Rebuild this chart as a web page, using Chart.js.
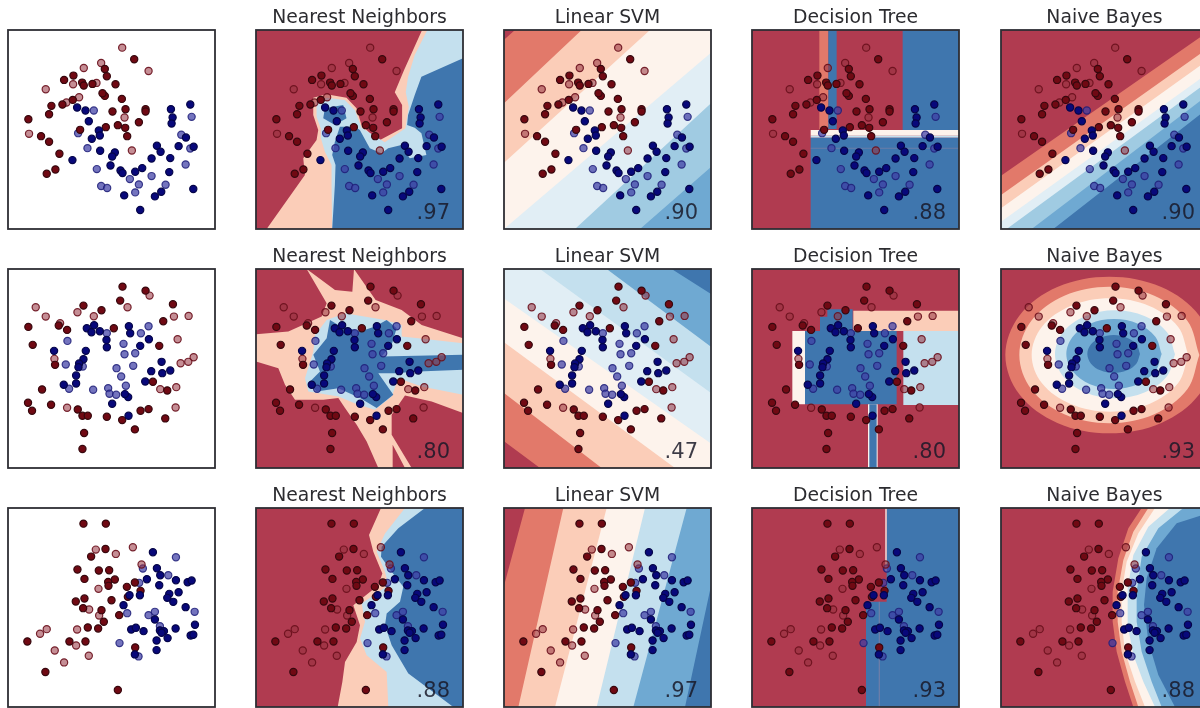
<!DOCTYPE html>
<html>
<head>
<meta charset="utf-8">
<script src="https://cdn.jsdelivr.net/npm/chart.js@4"></script>
<style>
html, body { margin: 0; padding: 0; background: #fff; overflow: hidden; width: 1200px; height: 708px; }
canvas { position: absolute; filter: blur(0.7px); }
</style>
</head>
<body>
<script>
// ---------------- LABELS -------------------
const Titles = ['Nearest Neighbors', 'Linear SVM', 'Decision Tree', 'Naive Bayes']
const Scores = [
    ['.97', '.90', '.88', '.90'],
    ['.80', '.47', '.80', '.93'],
    ['.88', '.97', '.93', '.88']
]

// ---------------- POINTS -----------------------------------------------
const Row1RedTrain = [[403,118],[315,147],[321,169],[221,167],[193,180],[247,188],[252,197],[278,192],[347,193],[315,228],[308,220],[366,237],[219,240],[155,258],[188,254],[148,283],[86,298],[338,275],[377,268],[437,268],[437,275],[417,307],[318,322],[241,330],[354,316],[376,324],[382,349],[148,366],[124,349],[179,402],[167,449],[141,462]]
const Row1RedTest = [[367,83],[446,153],[252,144],[304,129],[138,208],[220,193],[290,189],[238,232],[200,248],[374,293],[88,342],[396,392]]
const Row1BlueTrain = [[232,263],[257,272],[267,304],[297,332],[300,347],[276,357],[301,393],[345,398],[337,410],[332,437],[218,421],[362,452],[368,460],[406,456],[427,445],[455,416],[471,378],[482,396],[511,415],[536,379],[508,457],[513,268],[571,254],[518,293],[515,311],[558,353],[581,381],[580,508],[373,527],[421,571],[465,530],[484,516]]
const Row1BlueTest = [[282,272],[235,340],[263,385],[291,448],[304,499],[322,505],[390,478],[417,494],[406,518],[455,469],[497,495],[557,434],[544,345],[575,291],[571,386]]

const Row2RedTrain = [[368,80],[437,92],[361,122],[519,133],[251,137],[305,151],[490,184],[86,201],[177,197],[202,210],[342,205],[99,255],[478,258],[166,315],[127,389],[459,366],[502,392],[85,429],[97,453],[154,435],[234,449],[248,468],[264,468],[321,471],[367,481],[422,453],[446,448],[496,476],[405,509],[253,520],[248,568]]
const Row2RedTest = [[449,107],[383,142],[108,142],[138,170],[233,157],[282,169],[181,190],[522,170],[566,168],[533,238],[164,297],[542,310],[565,306],[581,292],[529,382],[481,388],[202,444],[527,443]]
const Row2BlueTrain = [[261,205],[283,196],[275,217],[300,214],[387,199],[391,220],[447,238],[421,258],[320,240],[321,262],[163,273],[258,273],[251,298],[238,311],[236,322],[229,347],[229,371],[192,375],[485,306],[454,334],[487,340],[511,332],[436,365],[337,432],[385,412],[375,403],[386,468]]
const Row2BlueTest = [[203,243],[321,220],[446,199],[423,220],[371,252],[374,283],[406,280],[198,314],[249,320],[350,325],[400,318],[364,350],[378,378],[208,387],[280,390],[325,385],[329,402],[349,405]]

const Row3RedTrain = [[251,77],[318,77],[317,153],[274,176],[233,215],[297,218],[328,217],[254,243],[345,245],[325,252],[326,264],[381,267],[405,254],[422,279],[384,297],[228,311],[254,302],[250,331],[335,307],[305,337],[358,352],[312,372],[264,389],[295,392],[83,431],[209,431],[257,431],[406,449],[137,523],[354,577]]
const Row3RedTest = [[288,155],[348,168],[399,148],[425,200],[296,273],[268,335],[298,353],[232,395],[141,394],[121,408],[229,443],[165,458],[267,474],[193,494]]
const Row3BlueTrain = [[459,163],[471,211],[481,232],[441,244],[478,262],[528,247],[563,253],[575,248],[420,292],[389,292],[536,283],[508,288],[502,300],[520,312],[371,322],[557,328],[465,365],[585,381],[527,392],[394,395],[408,390],[431,400],[480,398],[492,400],[485,405],[470,428],[503,421],[572,413],[580,411],[470,457],[405,470]]
const Row3BlueTest = [[528,178],[429,212],[505,232],[418,255],[382,346],[446,352],[465,342],[584,342],[480,385],[359,436],[416,476]]

// ---------------- DECISION REGIONS -------------------
// Nearest Neighbors
const Nn1Peach = [[65,672],[180,510],[175,460],[215,405],[220,375],[205,330],[205,278],[245,268],[305,278],[335,310],[350,360],[400,408],[472,370],[472,300],[450,262],[478,195],[532,75],[655,75],[655,672]]
const Nn1Light = [[548,75],[510,150],[490,215],[483,262],[492,305],[482,370],[420,412],[350,368],[330,315],[300,285],[245,278],[215,292],[215,335],[228,372],[228,400],[240,440],[260,480],[260,540],[262,672],[655,672],[655,75]]
const Nn1Dark = [[655,160],[530,215],[510,270],[490,330],[487,360],[510,368],[530,385],[545,450],[495,460],[470,420],[430,430],[410,445],[375,430],[345,375],[330,365],[285,365],[270,410],[262,450],[272,480],[270,540],[262,672],[655,672]]
const Nn1Blob = [[240,310],[295,300],[305,340],[270,360],[235,340]]

const Nn2Peach = [[185,72],[270,135],[322,140],[327,72],[392,165],[470,195],[530,240],[654,280],[654,505],[560,470],[480,452],[440,510],[440,570],[500,670],[480,670],[443,600],[443,670],[400,670],[365,590],[335,540],[300,490],[280,460],[235,465],[150,465],[120,420],[100,370],[33,350],[33,268],[130,260],[230,215],[245,175]]
const Nn2Light = [[210,270],[245,225],[300,205],[420,225],[470,240],[470,275],[520,280],[654,295],[654,450],[530,425],[460,400],[440,455],[390,495],[340,480],[280,455],[190,440],[180,400],[205,320]]
const Nn2Dark = [[255,225],[280,240],[345,260],[390,245],[425,225],[455,250],[440,300],[410,335],[654,330],[654,375],[520,380],[450,385],[400,385],[445,450],[395,490],[345,460],[280,430],[215,440],[190,415],[225,380],[205,330],[245,280]]

const Nn3Peach = [[408,69],[654,69],[654,665],[278,665],[292,590],[300,530],[335,470],[345,420],[325,360],[400,300],[412,265],[385,200],[372,150]]
const Nn3Light = [[480,69],[420,145],[395,200],[420,260],[430,300],[350,355],[360,410],[345,460],[365,510],[425,560],[430,665],[654,665],[654,69]]
const Nn3Dark = [[540,69],[460,130],[410,185],[408,215],[440,260],[475,305],[465,350],[425,385],[420,420],[440,480],[490,565],[625,665],[654,665],[654,69]]

// Linear SVM
const Svm1Bands = [
    [[60,23],[648,23],[648,476],[27,476],[27,45]],
    [[260,23],[648,23],[648,476],[27,476],[27,190]],
    [[465,23],[648,23],[648,476],[27,476],[27,325]],
    [[648,75],[648,476],[27,476]],
    [[648,190],[648,476],[240,476]],
    [[648,335],[648,476],[435,476]]
]
const Svm2Bands = [
    [[27,568],[648,568],[648,1021],[135,1021],[27,960]],
    [[27,568],[648,568],[648,1021],[320,1021],[27,850]],
    [[27,568],[648,568],[648,1021],[540,1021],[27,735]],
    [[27,568],[648,568],[648,965],[27,635]],
    [[135,568],[648,568],[648,850]],
    [[335,568],[648,568],[648,745]],
    [[530,568],[648,568],[648,625]]
]
const Svm3Bands = [
    [[90,1113],[648,1113],[648,1566],[27,1566],[27,1290]],
    [[205,1113],[648,1113],[648,1566],[70,1566]],
    [[335,1113],[648,1113],[648,1566],[180,1566]],
    [[450,1113],[648,1113],[648,1566],[305,1566]],
    [[575,1113],[648,1113],[648,1566],[415,1566]],
    [[648,1290],[648,1566],[570,1566]]
]

// Decision Tree
const Dt1Salmon = [[238,75],[265,75],[265,372],[238,372]]
const Dt1Strip = [[265,75],[290,75],[290,372],[265,372]]
const Dt1Right = [[488,75],[657,75],[657,375],[488,375]]
const Dt1White = [[212,375],[657,375],[657,392],[212,392]]
const Dt1Light = [[212,392],[657,392],[657,398],[212,398]]
const Dt1Lower = [[212,398],[657,398],[657,672],[212,672]]
const Dt1Seam = [[212,428],[657,428],[657,431],[212,431]]

const Dt2White = [[157,258],[195,258],[195,478],[157,478]]
const Dt2Block = [[195,258],[240,258],[240,215],[262,215],[262,193],[338,193],[338,258],[470,258],[470,478],[195,478]]
const Dt2Peach = [[340,197],[657,197],[657,258],[340,258]]
const Dt2Light = [[490,258],[657,258],[657,480],[490,480]]
const Dt2StemEdge = [[384,478],[413,478],[413,669],[384,669]]
const Dt2Stem = [[388,478],[410,478],[410,669],[388,669]]

const Dt3Blue = [[440,69],[657,69],[657,666],[378,666],[378,350],[440,350]]
const Dt3Line = [[436,69],[440,69],[440,260],[436,260]]
const Dt3Seam = [[416,350],[420,350],[420,666],[416,666]]

// Naive Bayes
const Nb1Bands = [
    [[33,512],[654,80],[654,672],[33,672]],
    [[33,570],[654,130],[654,672],[33,672]],
    [[33,610],[654,165],[654,672],[33,672]],
    [[33,650],[654,205],[654,672],[33,672]],
    [[50,672],[654,230],[654,672]],
    [[125,672],[654,270],[654,672]],
    [[190,672],[654,310],[654,672]]
]
const Nb2Rings = [
    [[670,330],[628,448],[514,534],[358,565],[202,534],[88,448],[46,330],[88,212],[202,126],[358,95],[514,126],[628,212],[670,330]],
    [[628,330],[592,433],[493,508],[358,535],[223,508],[124,433],[88,330],[124,227],[223,152],[358,125],[493,152],[592,227],[628,330]],
    [[595,330],[564,415],[478,477],[360,500],[242,477],[156,415],[125,330],[156,245],[242,183],[360,160],[478,183],[564,245],[595,330]],
    [[555,328],[531,394],[465,442],[375,460],[285,442],[219,394],[195,328],[219,262],[285,214],[375,196],[465,214],[531,262],[555,328]],
    [[515,327],[496,379],[444,418],[372,432],[300,418],[248,379],[229,327],[248,275],[300,236],[372,222],[444,236],[496,275],[515,327]],
    [[450,327],[439,356],[411,376],[371,384],[331,376],[303,356],[292,327],[303,298],[331,278],[371,270],[411,278],[439,298],[450,327]]
]
const Nb3Bands = [
    [[1205,69],[1165,130],[1135,220],[1118,320],[1118,410],[1130,500],[1155,590],[1180,666],[1404,666],[1404,69]],
    [[1225,69],[1180,140],[1150,225],[1133,320],[1133,410],[1145,500],[1170,590],[1195,666],[1404,666],[1404,69]],
    [[1245,69],[1195,145],[1160,230],[1145,320],[1145,410],[1155,500],[1185,590],[1215,666],[1404,666],[1404,69]],
    [[1290,69],[1225,125],[1180,210],[1163,310],[1163,420],[1180,510],[1210,590],[1245,666],[1404,666],[1404,69]],
    [[1330,69],[1255,130],[1205,215],[1190,320],[1190,410],[1205,500],[1235,590],[1265,666],[1404,666],[1404,69]],
    [[1404,85],[1310,115],[1250,190],[1220,280],[1212,360],[1225,470],[1255,570],[1305,666],[1404,666]]
]

// ---------------- LOOK AND LAYOUT -------------------
const Shade = {
    red: '#b03b50', salmon: '#e2796a', peach: '#fbcdb8', white: '#fdf3ec', pale: '#e1eef5',
    light: '#c4e0ee', mid: '#6fa9d2', dark: '#3f76ae', tint: '#a0cbe2', line: '#6a7da8'
}
const Lefts = [8, 256, 504, 752, 1001]
const Tops = [30, 269, 508]
const PanelW = 207
const PanelH = 199

const Rows = [
    {y: [30, 628], redTrain: Row1RedTrain, redTest: Row1RedTest, blueTrain: Row1BlueTrain, blueTest: Row1BlueTest},
    {y: [27, 625], redTrain: Row2RedTrain, redTest: Row2RedTest, blueTrain: Row2BlueTrain, blueTest: Row2BlueTest},
    {y: [30, 628], redTrain: Row3RedTrain, redTest: Row3RedTest, blueTrain: Row3BlueTrain, blueTest: Row3BlueTest}
]

// frame = the range the polygons were read in, layers are painted in order
const Panels = [
    [
        {frame: [33, 655, 75, 672], layers: [[Nn1Peach, 'peach'], [Nn1Light, 'light'], [Nn1Dark, 'dark'], [Nn1Blob, 'dark']]},
        {frame: [27, 648, 23, 476], layers: Svm1Bands.map((b, i) => [b, ['salmon', 'peach', 'white', 'pale', 'tint', 'mid'][i]])},
        {frame: [36, 657, 75, 672], layers: [[Dt1Salmon, 'salmon'], [Dt1Strip, 'dark'], [Dt1Right, 'dark'], [Dt1White, 'white'], [Dt1Light, 'light'], [Dt1Lower, 'dark'], [Dt1Seam, 'line']]},
        {frame: [33, 654, 75, 672], layers: Nb1Bands.map((b, i) => [b, ['salmon', 'peach', 'white', 'pale', 'tint', 'mid', 'dark'][i]])}
    ],
    [
        {frame: [33, 654, 72, 670], layers: [[Nn2Peach, 'peach'], [Nn2Light, 'light'], [Nn2Dark, 'dark']]},
        {frame: [27, 648, 568, 1021], layers: Svm2Bands.map((b, i) => [b, ['salmon', 'peach', 'white', 'pale', 'light', 'mid', 'dark'][i]])},
        {frame: [36, 657, 72, 669], layers: [[Dt2White, 'white'], [Dt2Block, 'dark'], [Dt2Peach, 'peach'], [Dt2Light, 'light'], [Dt2StemEdge, 'white'], [Dt2Stem, 'dark']]},
        {frame: [33, 654, 72, 669], curve: 0.35, layers: Nb2Rings.map((b, i) => [b, ['salmon', 'peach', 'white', 'light', 'mid', 'dark'][i]])}
    ],
    [
        {frame: [33, 654, 69, 665], layers: [[Nn3Peach, 'peach'], [Nn3Light, 'light'], [Nn3Dark, 'dark']]},
        {frame: [27, 648, 1113, 1566], layers: Svm3Bands.map((b, i) => [b, ['salmon', 'peach', 'white', 'light', 'mid', 'dark'][i]])},
        {frame: [36, 657, 69, 666], layers: [[Dt3Blue, 'dark'], [Dt3Line, 'white'], [Dt3Seam, 'line']]},
        {frame: [783, 1404, 69, 666], layers: Nb3Bands.map((b, i) => [b, ['salmon', 'peach', 'white', 'light', 'mid', 'dark'][i]])}
    ]
]

function xy(list) { return list.map(p => ({x: p[0], y: p[1]})) }

function PointSet(list, fill, edge, order) {
    return {
        data: xy(list),
        backgroundColor: fill,
        borderColor: edge,
        borderWidth: 1.2,
        pointRadius: 3.6,
        xAxisID: 'x',
        yAxisID: 'y',
        order: order
    }
}

const panelDecor = {
    id: 'panelDecor',
    beforeDatasetsDraw(chart, args, opts) {
        if (!opts.base) return
        const a = chart.chartArea
        chart.ctx.fillStyle = opts.base
        chart.ctx.fillRect(a.left, a.top, a.width, a.height)
    },
    afterDraw(chart, args, opts) {
        const a = chart.chartArea
        const ctx = chart.ctx
        ctx.save()
        ctx.strokeStyle = '#2e2e34'
        ctx.lineWidth = 1.8
        ctx.strokeRect(a.left, a.top, a.width, a.height)
        if (opts.score) {
            ctx.font = '21px "DejaVu Sans"'
            ctx.fillStyle = 'rgba(25,25,40,0.85)'
            ctx.textAlign = 'right'
            ctx.textBaseline = 'alphabetic'
            ctx.fillText(opts.score, a.right - 13, a.bottom - 10)
        }
        ctx.restore()
    }
}

function MakePanel(row, col) {
    const canvas = document.createElement('canvas')
    canvas.width = PanelW + 6
    canvas.height = PanelH + 33
    canvas.style.left = (Lefts[col] - 3) + 'px'
    canvas.style.top = (Tops[row] - 30) + 'px'
    document.body.appendChild(canvas)

    const set = Rows[row]
    const panel = col > 0 ? Panels[row][col - 1] : null
    const datasets = [
        PointSet(set.blueTest, 'rgba(62,62,165,0.72)', 'rgba(30,30,120,0.85)', 4),
        PointSet(set.redTest, 'rgba(150,50,62,0.55)', 'rgba(105,15,28,0.9)', 3),
        PointSet(set.redTrain, '#700913', '#36080e', 2),
        PointSet(set.blueTrain, '#08087a', '#050548', 1)
    ]
    if (panel) {
        panel.layers.forEach((layer, i) => {
            datasets.push({
                data: xy(layer[0]),
                showLine: true,
                fill: 'shape',
                backgroundColor: Shade[layer[1]],
                borderWidth: 0,
                pointRadius: 0,
                tension: panel.curve || 0,
                xAxisID: 'rx',
                yAxisID: 'ry',
                order: 100 - i
            })
        })
    }

    const frame = panel ? panel.frame : [25, 645, set.y[0], set.y[1]]
    new Chart(canvas.getContext('2d'), {
        type: 'scatter',
        data: {datasets: datasets},
        plugins: [panelDecor],
        options: {
            responsive: false,
            animation: false,
            layout: {autoPadding: false, padding: {left: 3, right: 3, top: col > 0 ? 0 : 30, bottom: 3}},
            plugins: {
                legend: {display: false},
                tooltip: {enabled: false},
                title: {
                    display: col > 0,
                    text: col > 0 ? Titles[col - 1] : '',
                    color: '#2c2c30',
                    font: {family: 'DejaVu Sans', size: 18.8, weight: 'normal', lineHeight: 1.2},
                    padding: {top: 6.4, bottom: 1.04}
                },
                panelDecor: {
                    base: col > 0 ? Shade.red : null,
                    score: col > 0 ? Scores[row][col - 1] : null
                }
            },
            scales: {
                x: {display: false, min: 25, max: 645},
                y: {display: false, min: set.y[0], max: set.y[1], reverse: true},
                rx: {type: 'linear', axis: 'x', display: false, min: frame[0], max: frame[1]},
                ry: {type: 'linear', axis: 'y', display: false, min: frame[2], max: frame[3], reverse: true}
            }
        }
    })
}

Rows.forEach((r, row) => {
    Lefts.forEach((l, col) => MakePanel(row, col))
})
</script>
</body>
</html>
